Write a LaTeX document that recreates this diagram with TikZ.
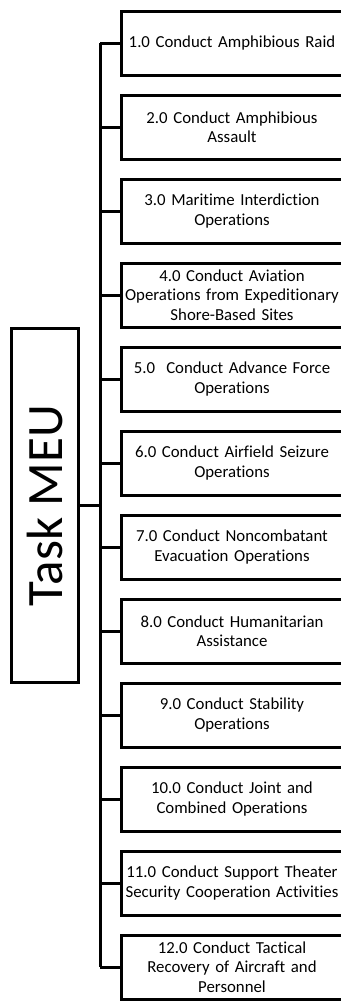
\documentclass[tikz,border=0pt]{standalone}
\usepackage{fontspec}
\setmainfont{Carlito}[Ligatures=NoCommon]
\usetikzlibrary{positioning}

\tikzset{
  taskbox/.style={draw,line width=3pt,minimum width=222pt,minimum height=64pt,
    text width=220pt,align=center,inner sep=0pt,font=\fontsize{16.8}{19.5}\selectfont},
  rootbox/.style={draw,line width=3pt,rotate=90,minimum width=354pt,minimum height=67pt,
    inner sep=0pt,font=\fontsize{51}{55}\selectfont},
  branch/.style={line width=3pt}
}

\begin{document}
\begin{tikzpicture}[x=1pt,y=-1pt]
\useasboundingbox (0,0) rectangle (340,1001);
% tasks of the MEU
\foreach \n/\txt in {1/{1.0 Conduct Amphibious Raid},
  2/{2.0 Conduct Amphibious\\Assault},
  3/{3.0 Maritime Interdiction\\Operations},
  4/{4.0 Conduct Aviation\\Operations from Expeditionary\\Shore-Based Sites},
  5/{5.0\ \ Conduct Advance Force\\Operations},
  6/{6.0 Conduct Airfield Seizure\\Operations},
  7/{7.0 Conduct Noncombatant\\Evacuation Operations},
  8/{8.0 Conduct Humanitarian\\Assistance},
  9/{9.0 Conduct Stability\\Operations},
  10/{10.0 Conduct Joint and\\Combined Operations},
  11/{11.0 Conduct Support Theater\\Security Cooperation Activities},
  12/{12.0 Conduct Tactical\\Recovery of Aircraft and\\Personnel}}
  \node[taskbox] (t\n) at (232,{43+84*(\n-1)}) {\txt};
\node[rootbox] (meu) at (45,505.5) {Task MEU};
\coordinate (bus) at (100,0);
% tree lines
\draw[branch] (t1.west -| bus) -- (t12.west -| bus);
\foreach \n in {1,...,12}
  \draw[branch] (t\n.west) -- (t\n.west -| bus);
\draw[branch] (meu.south) -- (meu.south -| bus);
\end{tikzpicture}
\end{document}
